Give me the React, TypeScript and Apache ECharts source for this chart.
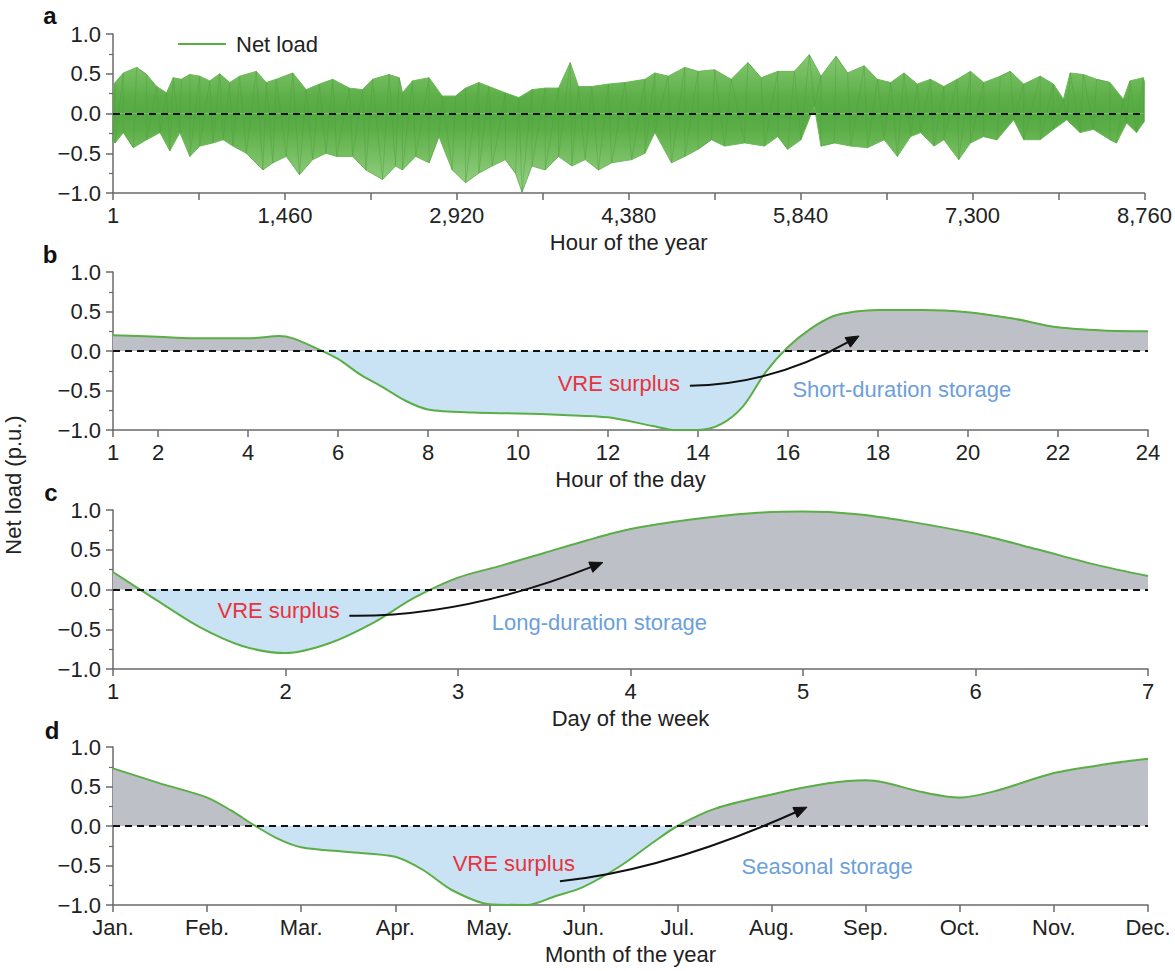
import React, { useEffect, useRef } from 'react';
import * as echarts from 'echarts';

const FONT = '"Liberation Sans", Arial, Helvetica, sans-serif';
const GREEN = '#5aae45';
const GRAY_FILL = '#bec0c8';
const BLUE_FILL = '#c9e3f5';
const RED_TEXT = '#e8333e';
const BLUE_TEXT = '#6d9fda';
const AXIS = '#6a6a6a';
const TEXT = '#222222';

// ---------- Panel a: hourly net load, read as upper / lower envelopes ----------
const aUpperHours = [1, 18, 88, 201, 286, 371, 455, 511, 582, 653, 737, 822, 907, 991, 1076, 1217, 1302, 1386, 1527, 1640, 1753, 1866, 2007, 2119, 2204, 2345, 2430,
  2458, 2543, 2684, 2796, 2910, 2994, 3107, 3192, 3333, 3446, 3558, 3671, 3784, 3883, 3953, 4066, 4207, 4348, 4518, 4602, 4715, 4856, 4969, 5110, 5250, 5392, 5504, 5646,
  5787, 5914, 6013, 6140, 6238, 6380, 6492, 6605, 6718, 6831, 6943, 7056, 7169, 7282, 7395, 7536, 7621, 7734, 7875, 7987, 8072, 8129, 8242, 8354, 8467, 8580, 8636, 8749, 8760];
const aUpperValues = [0.30, 0.39, 0.51, 0.58, 0.49, 0.34, 0.26, 0.45, 0.43, 0.49, 0.47, 0.41, 0.50, 0.39, 0.47, 0.53, 0.39, 0.43, 0.51, 0.30, 0.37, 0.43, 0.32, 0.30, 0.43, 0.49, 0.45,
  0.26, 0.41, 0.45, 0.22, 0.22, 0.32, 0.39, 0.34, 0.26, 0.20, 0.30, 0.32, 0.32, 0.64, 0.34, 0.34, 0.37, 0.39, 0.43, 0.51, 0.47, 0.58, 0.53, 0.55, 0.43, 0.64, 0.45, 0.53,
  0.53, 0.74, 0.47, 0.72, 0.51, 0.60, 0.43, 0.39, 0.51, 0.37, 0.43, 0.34, 0.43, 0.53, 0.39, 0.47, 0.53, 0.37, 0.47, 0.37, 0.18, 0.51, 0.49, 0.43, 0.39, 0.18, 0.41, 0.45, 0.40];
const aLowerHours = [1, 18, 88, 173, 286, 399, 483, 568, 653, 737, 850, 935, 1019, 1132, 1273, 1358, 1471, 1584, 1696, 1809, 1900, 2035, 2148, 2289, 2400,
  2458, 2571, 2684, 2768, 2881, 2994, 3107, 3220, 3333, 3418, 3474, 3558, 3671, 3784, 3897, 4010, 4123, 4235, 4405, 4518, 4602, 4743, 4856, 4969, 5082, 5194, 5364, 5533, 5646,
  5730, 5843, 5956, 6013, 6126, 6266, 6408, 6549, 6662, 6774, 6859, 6972, 7056, 7183, 7282, 7395, 7508, 7649, 7734, 7875, 7987, 8100, 8213, 8326, 8467, 8523, 8608, 8693, 8749, 8760];
const aLowerValues = [-0.35, -0.37, -0.24, -0.43, -0.33, -0.24, -0.47, -0.24, -0.54, -0.41, -0.37, -0.33, -0.41, -0.50, -0.71, -0.62, -0.54, -0.77, -0.58, -0.50, -0.54, -0.54, -0.71, -0.83, -0.66,
  -0.71, -0.54, -0.62, -0.29, -0.71, -0.87, -0.75, -0.66, -0.58, -0.75, -0.99, -0.66, -0.71, -0.54, -0.66, -0.58, -0.71, -0.62, -0.58, -0.50, -0.24, -0.62, -0.54, -0.45, -0.33, -0.41, -0.37, -0.41, -0.29,
  -0.45, -0.33, 0.09, -0.41, -0.37, -0.41, -0.43, -0.33, -0.54, -0.29, -0.24, -0.41, -0.33, -0.58, -0.37, -0.29, -0.33, -0.08, -0.33, -0.33, -0.20, -0.08, -0.24, -0.20, -0.33, -0.37, -0.12, -0.24, -0.12, -0.10];

// ---------- Panel b: hour of the day ----------
const bHours = [1, 2, 3, 4, 4.7, 5, 5.5, 6, 6.5, 7, 7.5, 8, 9, 10, 11, 12, 13, 13.5, 14, 14.5, 15, 15.5, 16, 16.5, 17, 17.5, 18, 19, 20, 21, 22, 23, 24];
const bValues = [0.20, 0.18, 0.16, 0.16, 0.19, 0.16, 0.04, -0.10, -0.30, -0.46, -0.63, -0.74, -0.78, -0.79, -0.81, -0.84, -0.95, -1.0, -1.0, -0.93, -0.70, -0.27, 0.05, 0.28, 0.44, 0.50, 0.52, 0.52, 0.49, 0.41, 0.30, 0.26, 0.25];
const bTicks = [1, 2, 4, 6, 8, 10, 12, 14, 16, 18, 20, 22, 24];

// ---------- Panel c: day of the week ----------
const cDays = [1, 1.25, 1.5, 1.75, 2, 2.25, 2.5, 2.75, 3, 3.25, 3.5, 3.75, 4, 4.35, 4.7, 5, 5.3, 5.6, 6, 6.35, 6.7, 7];
const cValues = [0.22, -0.13, -0.47, -0.71, -0.80, -0.68, -0.43, -0.10, 0.15, 0.30, 0.46, 0.62, 0.76, 0.88, 0.96, 0.98, 0.95, 0.86, 0.70, 0.51, 0.31, 0.17];

// ---------- Panel d: month of the year ----------
const monthLabels = ['Jan.', 'Feb.', 'Mar.', 'Apr.', 'May.', 'Jun.', 'Jul.', 'Aug.', 'Sep.', 'Oct.', 'Nov.', 'Dec.'];
const dMonths = [0, 0.5, 1, 1.25, 1.5, 1.75, 2, 2.5, 3, 3.3, 3.6, 4, 4.4, 4.7, 5, 5.4, 5.75, 6, 6.4, 7, 7.6, 8, 8.2, 8.6, 9, 9.4, 10, 10.6, 11];
const dValues = [0.73, 0.54, 0.36, 0.20, 0.01, -0.16, -0.27, -0.33, -0.39, -0.56, -0.81, -0.99, -1.0, -0.89, -0.77, -0.50, -0.20, 0.0, 0.22, 0.40, 0.54, 0.58, 0.55, 0.43, 0.36, 0.45, 0.67, 0.79, 0.85];

// annotation anchors in data units
const annotations = [
  { grid: 1, surplus: [12.24, -0.41], label: 'Short-duration storage', labelAt: [18.53, -0.49], from: [13.82, -0.44], ctrl: [15.64, -0.43], to: [17.58, 0.19] },
  { grid: 2, surplus: [1.96, -0.27], label: 'Long-duration storage', labelAt: [3.82, -0.41], from: [2.37, -0.33], ctrl: [3.03, -0.35], to: [3.84, 0.34] },
  { grid: 3, surplus: [4.26, -0.475], label: 'Seasonal storage', labelAt: [7.59, -0.51], from: [4.75, -0.70], ctrl: [5.88, -0.56], to: [7.376, 0.238] },
];

const grids = [
  { left: 113, right: 27, top: 34, height: 159 },
  { left: 113, right: 27, top: 272, height: 158 },
  { left: 113, right: 27, top: 510, height: 159 },
  { left: 113, right: 27, top: 747, height: 158 },
];

const zip = (xs: number[], ys: number[]) => xs.map((x, i) => [x, ys[i]]);
// the hourly trace swings between the read peaks and troughs in time order
const zigzag = () => {
  const pts = [...zip(aUpperHours, aUpperValues), ...zip(aLowerHours, aLowerValues)];
  pts.sort((p, q) => p[0] - q[0]);
  return pts;
};
const fmtY = (v: number) => {
  const s = (Math.abs(v) < 1e-9 ? 0 : v).toFixed(1);
  return s.replace('-', '\u2212');
};

const labelStyle = { color: TEXT, fontSize: 22, fontFamily: FONT };

const yAxis = (gi: number) => ({
  type: 'value', gridIndex: gi, min: -1, max: 1, interval: 0.5,
  axisLine: { show: true, lineStyle: { color: AXIS, width: 1.5 } },
  axisTick: { show: true, length: 7, lineStyle: { color: AXIS, width: 1.5 } },
  minorTick: { show: true, splitNumber: 2, length: 4, lineStyle: { color: AXIS, width: 1.2 } },
  splitLine: { show: false },
  axisLabel: { ...labelStyle, margin: 12, formatter: fmtY },
});

const xBase = (gi: number, name: string) => ({
  type: 'value', gridIndex: gi, name, nameLocation: 'middle', nameGap: 38,
  nameTextStyle: { color: TEXT, fontSize: 22, fontFamily: FONT },
  axisLine: { show: true, onZero: false, lineStyle: { color: AXIS, width: 1.5 } },
  axisTick: { show: true, length: 7, lineStyle: { color: AXIS, width: 1.5 } },
  splitLine: { show: false },
});

const zeroLine = {
  silent: true, symbol: ['none', 'none'], label: { show: false },
  lineStyle: { color: '#111', type: [7, 5], width: 2 },
  data: [{ yAxis: 0 }],
};

const fillGradient = (gi: number) => {
  const g = grids[gi];
  return new echarts.graphic.LinearGradient(0, g.top, 0, g.top + g.height, [
    { offset: 0, color: GRAY_FILL }, { offset: 0.5, color: GRAY_FILL },
    { offset: 0.5, color: BLUE_FILL }, { offset: 1, color: BLUE_FILL },
  ], true);
};

const bandGradient = () => {
  const g = grids[0];
  return new echarts.graphic.LinearGradient(0, g.top, 0, g.top + g.height, [
    { offset: 0, color: '#9dd28c' }, { offset: 0.25, color: '#74bd60' }, { offset: 0.4, color: '#5cae48' },
    { offset: 0.5, color: '#55aa42' }, { offset: 0.6, color: '#5cae48' }, { offset: 0.75, color: '#74bd60' },
    { offset: 1, color: '#9dd28c' },
  ], true);
};

const curveSeries = (gi: number, data: number[][]) => ({
  type: 'line', xAxisIndex: gi, yAxisIndex: gi, data, smooth: 0.3, showSymbol: false,
  lineStyle: { color: GREEN, width: 2 }, itemStyle: { color: GREEN },
  areaStyle: { color: fillGradient(gi), opacity: 1 },
  markLine: zeroLine, z: 3,
});

const option: any = {
  animation: false,
  backgroundColor: '#ffffff',
  textStyle: { fontFamily: FONT },
  legend: {
    data: ['Net load'], left: 173, top: 28, icon: 'rect', itemWidth: 48, itemHeight: 2,
    textStyle: { color: TEXT, fontSize: 22, fontFamily: FONT, padding: [0, 0, 0, 5] },
    itemStyle: { color: GREEN },
    selectedMode: false,
  },
  grid: grids,
  xAxis: [
    {
      ...xBase(0, 'Hour of the year'), min: 0, max: 8760, interval: 730,
      axisLabel: {
        ...labelStyle, margin: 11, showMinLabel: true, showMaxLabel: true,
        formatter: (v: number) => (v === 0 ? '1' : v % 1460 === 0 ? v.toLocaleString('en-US') : ''),
      },
    },
    {
      ...xBase(1, 'Hour of the day'), min: 1, max: 24,
      axisTick: { show: true, length: 7, customValues: bTicks, lineStyle: { color: AXIS, width: 1.5 } },
      axisLabel: { ...labelStyle, margin: 11, customValues: bTicks },
    },
    {
      ...xBase(2, 'Day of the week'), min: 1, max: 7, interval: 1,
      axisLabel: { ...labelStyle, margin: 11 },
    },
    {
      ...xBase(3, 'Month of the year'), min: 0, max: 11, interval: 1,
      axisLabel: { ...labelStyle, margin: 11, formatter: (v: number) => monthLabels[Math.round(v)] ?? '' },
    },
  ],
  yAxis: [yAxis(0), yAxis(1), yAxis(2), yAxis(3)],
  series: [
    {
      name: 'upper envelope', type: 'line', xAxisIndex: 0, yAxisIndex: 0, data: zip(aUpperHours, aUpperValues),
      showSymbol: false, lineStyle: { color: '#6cb958', width: 1 }, itemStyle: { color: GREEN },
      areaStyle: { color: bandGradient(), opacity: 1 }, z: 2,
    },
    {
      name: 'lower envelope', type: 'line', xAxisIndex: 0, yAxisIndex: 0, data: zip(aLowerHours, aLowerValues),
      showSymbol: false, lineStyle: { color: '#6cb958', width: 1 }, itemStyle: { color: GREEN },
      areaStyle: { color: bandGradient(), opacity: 1 }, z: 2,
    },
    {
      name: 'Net load', type: 'line', xAxisIndex: 0, yAxisIndex: 0, data: zigzag(),
      showSymbol: false, lineStyle: { color: '#4f9f3c', width: 1, opacity: 0.45 }, itemStyle: { color: GREEN },
      markLine: zeroLine, z: 3,
    },
    curveSeries(1, zip(bHours, bValues)),
    curveSeries(2, zip(cDays, cValues)),
    curveSeries(3, zip(dMonths, dValues)),
  ],
};

function buildGraphics(chart: echarts.ECharts) {
  const els: any[] = [];
  const letters = [['a', 50, 15], ['b', 50, 254], ['c', 51, 492], ['d', 52, 730]];
  letters.forEach(([t, x, y], i) => els.push({
    type: 'text', id: 'letter' + i, x, y, z: 10,
    style: { text: t, fill: '#111', font: `bold 24px ${FONT}`, textAlign: 'center', textVerticalAlign: 'middle', align: 'center', verticalAlign: 'middle' },
  }));
  els.push({
    type: 'text', id: 'ytitle', x: 13, y: 485, rotation: Math.PI / 2, z: 10,
    style: { text: 'Net load (p.u.)', fill: TEXT, font: `22px ${FONT}`, textAlign: 'center', textVerticalAlign: 'middle', align: 'center', verticalAlign: 'middle' },
  });
  annotations.forEach((a, i) => {
    const px = (p: number[]) => chart.convertToPixel({ gridIndex: a.grid } as any, p) as number[];
    const s = px(a.surplus);
    const l = px(a.labelAt);
    const f = px(a.from);
    const c = px(a.ctrl);
    const t = px(a.to);
    els.push({
      type: 'text', id: 'sur' + i, x: s[0], y: s[1], z: 10,
      style: { text: 'VRE surplus', fill: RED_TEXT, font: `22px ${FONT}`, textAlign: 'center', textVerticalAlign: 'middle', align: 'center', verticalAlign: 'middle' },
    });
    els.push({
      type: 'text', id: 'sto' + i, x: l[0], y: l[1], z: 10,
      style: { text: a.label, fill: BLUE_TEXT, font: `22px ${FONT}`, textAlign: 'center', textVerticalAlign: 'middle', align: 'center', verticalAlign: 'middle' },
    });
    const dx = t[0] - c[0];
    const dy = t[1] - c[1];
    const len = Math.hypot(dx, dy);
    const ux = dx / len, uy = dy / len;
    const nx = -uy, ny = ux;
    const L = 13, W = 5.5;
    const bx = t[0] - ux * L, by = t[1] - uy * L;
    els.push({
      type: 'bezierCurve', id: 'arc' + i, z: 10,
      shape: { x1: f[0], y1: f[1], cpx1: c[0], cpy1: c[1], x2: bx + ux * 3, y2: by + uy * 3 },
      style: { stroke: '#111', lineWidth: 2, fill: null },
    });
    els.push({
      type: 'polygon', id: 'head' + i, z: 10,
      shape: { points: [[t[0], t[1]], [bx + nx * W, by + ny * W], [bx - nx * W, by - ny * W]] },
      style: { fill: '#111', stroke: '#111', lineWidth: 1 },
    });
  });
  return els;
}

export default function App() {
  const ref = useRef<HTMLDivElement>(null);
  useEffect(() => {
    const chart = echarts.init(ref.current!, null, { renderer: 'svg' });
    chart.setOption(option);
    chart.setOption({ graphic: buildGraphics(chart) });
    return () => chart.dispose();
  }, []);
  return (
    <div
      ref={ref}
      style={{ position: 'fixed', left: 0, top: 0, width: 1175, height: 971, background: '#fff' }}
    />
  );
}
